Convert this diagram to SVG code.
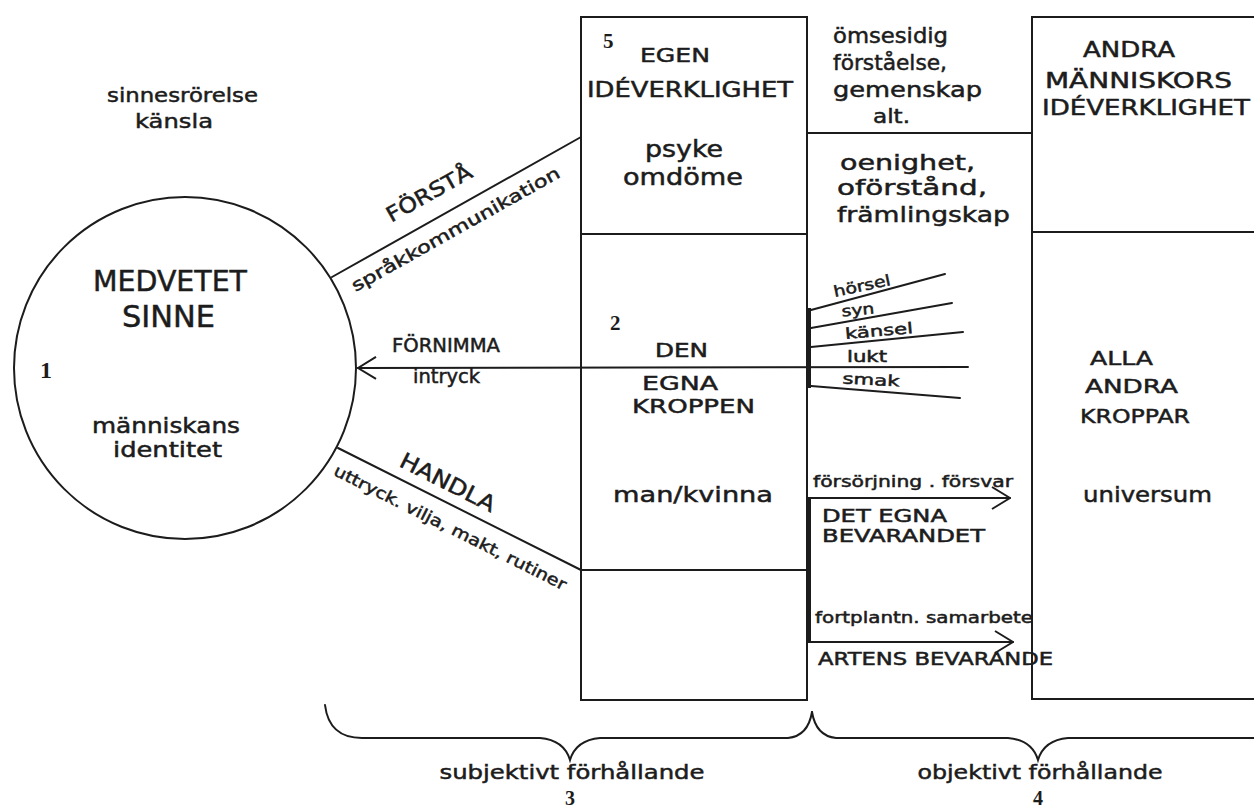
<svg xmlns="http://www.w3.org/2000/svg" width="1254" height="808" viewBox="0 0 1254 808">
<style>
.ln{stroke:#1c1c1c;stroke-width:2;fill:none;stroke-linecap:round}
.thick{stroke:#1c1c1c;stroke-width:4;fill:none}
.t{font-family:"DejaVu Sans","Liberation Sans",sans-serif;fill:#1c1c1c;stroke:#1c1c1c;stroke-width:0.5}
.num{font-family:"Liberation Serif",serif;font-weight:bold;fill:#1c1c1c}
</style>
<defs>
<marker id="chev" viewBox="0 0 20 24" refX="19" refY="12" markerWidth="20" markerHeight="24" markerUnits="userSpaceOnUse" orient="auto">
<path d="M1,1 L19,12 L1,23" fill="none" stroke="#1c1c1c" stroke-width="2"/>
</marker>
</defs>
<rect width="1254" height="808" fill="#ffffff"/>

<g id="label-sinnesrorelse">
<text class="t" x="107" y="102" font-size="20" textLength="151" lengthAdjust="spacingAndGlyphs">sinnesrörelse</text>
<text class="t" x="135" y="128" font-size="20" textLength="78" lengthAdjust="spacingAndGlyphs">känsla</text>
</g>

<g id="node-medvetet-sinne">
<circle class="ln" cx="185" cy="368" r="171"/>
<text class="t" x="93" y="291" font-size="28" textLength="154" lengthAdjust="spacingAndGlyphs">MEDVETET</text>
<text class="t" x="122" y="327" font-size="30" textLength="93" lengthAdjust="spacingAndGlyphs">SINNE</text>
<text class="num" x="40" y="378" font-size="24">1</text>
<text class="t" x="92" y="433" font-size="21" textLength="148" lengthAdjust="spacingAndGlyphs">människans</text>
<text class="t" x="113" y="457" font-size="21" textLength="109" lengthAdjust="spacingAndGlyphs">identitet</text>
</g>

<g id="node-egen-ideverklighet">
<rect class="ln" x="581" y="17" width="226" height="217"/>
<text class="num" x="603" y="48" font-size="21">5</text>
<text class="t" x="640" y="62" font-size="20" textLength="70" lengthAdjust="spacingAndGlyphs">EGEN</text>
<text class="t" x="587" y="97" font-size="21" textLength="206" lengthAdjust="spacingAndGlyphs">IDÉVERKLIGHET</text>
<text class="t" x="645" y="157" font-size="23" textLength="78" lengthAdjust="spacingAndGlyphs">psyke</text>
<text class="t" x="623" y="185" font-size="23" textLength="120" lengthAdjust="spacingAndGlyphs">omdöme</text>
</g>

<g id="node-den-egna-kroppen">
<rect class="ln" x="581" y="234" width="226" height="336"/>
<text class="num" x="610" y="330" font-size="21">2</text>
<text class="t" x="655" y="357" font-size="19" textLength="53" lengthAdjust="spacingAndGlyphs">DEN</text>
<text class="t" x="642" y="390" font-size="20" textLength="76" lengthAdjust="spacingAndGlyphs">EGNA</text>
<text class="t" x="632" y="413" font-size="20" textLength="123" lengthAdjust="spacingAndGlyphs">KROPPEN</text>
<text class="t" x="613" y="502" font-size="22" textLength="160" lengthAdjust="spacingAndGlyphs">man/kvinna</text>
</g>

<g id="node-empty">
<rect class="ln" x="581" y="570" width="226" height="130"/>
</g>

<g id="node-relation-ide">
<line class="ln" x1="807" y1="133" x2="1032" y2="133"/>
<text class="t" x="833" y="43" font-size="21" textLength="115" lengthAdjust="spacingAndGlyphs">ömsesidig</text>
<text class="t" x="833" y="70" font-size="21" textLength="114" lengthAdjust="spacingAndGlyphs">förståelse,</text>
<text class="t" x="833" y="97" font-size="21" textLength="149" lengthAdjust="spacingAndGlyphs">gemenskap</text>
<text class="t" x="873" y="123" font-size="19" textLength="37" lengthAdjust="spacingAndGlyphs">alt.</text>
<text class="t" x="840" y="170" font-size="22" textLength="135" lengthAdjust="spacingAndGlyphs">oenighet,</text>
<text class="t" x="837" y="195" font-size="22" textLength="150" lengthAdjust="spacingAndGlyphs">oförstånd,</text>
<text class="t" x="837" y="222" font-size="22" textLength="173" lengthAdjust="spacingAndGlyphs">främlingskap</text>
</g>

<g id="node-andra-ideverklighet">
<path class="ln" d="M1256,17 H1032 V232 H1256"/>
<text class="t" x="1083" y="57" font-size="21" textLength="92" lengthAdjust="spacingAndGlyphs">ANDRA</text>
<text class="t" x="1045" y="88" font-size="21" textLength="187" lengthAdjust="spacingAndGlyphs">MÄNNISKORS</text>
<text class="t" x="1042" y="115" font-size="21" textLength="208" lengthAdjust="spacingAndGlyphs">IDÉVERKLIGHET</text>
</g>

<g id="node-alla-andra-kroppar">
<path class="ln" d="M1032,232 V699 H1256"/>
<text class="t" x="1090" y="365" font-size="20" textLength="63" lengthAdjust="spacingAndGlyphs">ALLA</text>
<text class="t" x="1085" y="393" font-size="20" textLength="93" lengthAdjust="spacingAndGlyphs">ANDRA</text>
<text class="t" x="1080" y="423" font-size="20" textLength="110" lengthAdjust="spacingAndGlyphs">KROPPAR</text>
<text class="t" x="1083" y="502" font-size="21" textLength="129" lengthAdjust="spacingAndGlyphs">universum</text>
</g>

<g id="connectors">
<line class="ln" x1="332" y1="277" x2="581" y2="137"/>
<line class="ln" x1="338" y1="448" x2="581" y2="570"/>
<line class="ln" x1="968" y1="367" x2="358" y2="368" marker-end="url(#chev)"/>
<line class="ln" x1="811" y1="310" x2="945" y2="274"/>
<line class="ln" x1="811" y1="328" x2="952" y2="303"/>
<line class="ln" x1="811" y1="347" x2="963" y2="332"/>
<line class="ln" x1="811" y1="386" x2="960" y2="398"/>
<line class="thick" x1="809" y1="308" x2="809" y2="388"/>
<line class="ln" x1="808" y1="498" x2="1010" y2="498" marker-end="url(#chev)"/>
<line class="ln" x1="808" y1="642" x2="1013" y2="642" marker-end="url(#chev)"/>
<line class="thick" x1="809" y1="498" x2="809" y2="642" stroke-width="3"/>
</g>

<g id="connector-labels">
<text class="t" font-size="21" text-anchor="middle" transform="translate(429,193) rotate(-29.3)" y="7.5" textLength="95" lengthAdjust="spacingAndGlyphs">FÖRSTÅ</text>
<text class="t" font-size="17" text-anchor="middle" transform="translate(456,230) rotate(-29.3)" y="5" textLength="236" lengthAdjust="spacingAndGlyphs">språkkommunikation</text>
<text class="t" x="392" y="352" font-size="19" textLength="108" lengthAdjust="spacingAndGlyphs">FÖRNIMMA</text>
<text class="t" x="413" y="383" font-size="19" textLength="67" lengthAdjust="spacingAndGlyphs">intryck</text>
<text class="t" font-size="22" text-anchor="middle" transform="translate(448,482) rotate(26.7)" y="8" textLength="104" lengthAdjust="spacingAndGlyphs">HANDLA</text>
<text class="t" font-size="16" text-anchor="middle" transform="translate(450,528) rotate(26.7)" y="5" textLength="258" lengthAdjust="spacingAndGlyphs">uttryck. vilja, makt, rutiner</text>
<text class="t" font-size="15" text-anchor="middle" transform="translate(862,286) rotate(-12)" y="5" textLength="58" lengthAdjust="spacingAndGlyphs">hörsel</text>
<text class="t" font-size="15" text-anchor="middle" transform="translate(858,311) rotate(-5)" y="4" textLength="33" lengthAdjust="spacingAndGlyphs">syn</text>
<text class="t" font-size="15" text-anchor="middle" transform="translate(879,331) rotate(-5)" y="5" textLength="68" lengthAdjust="spacingAndGlyphs">känsel</text>
<text class="t" x="847" y="362" font-size="15" textLength="40" lengthAdjust="spacingAndGlyphs">lukt</text>
<text class="t" font-size="15" text-anchor="middle" transform="translate(871,380) rotate(3)" y="5" textLength="57" lengthAdjust="spacingAndGlyphs">smak</text>
<text class="t" x="813" y="487" font-size="16" textLength="200" lengthAdjust="spacingAndGlyphs">försörjning . försvar</text>
<text class="t" x="822" y="522" font-size="17" textLength="125" lengthAdjust="spacingAndGlyphs">DET EGNA</text>
<text class="t" x="822" y="542" font-size="17" textLength="163" lengthAdjust="spacingAndGlyphs">BEVARANDET</text>
<text class="t" x="815" y="623" font-size="16" textLength="218" lengthAdjust="spacingAndGlyphs">fortplantn. samarbete</text>
<text class="t" x="818" y="665" font-size="17" textLength="235" lengthAdjust="spacingAndGlyphs">ARTENS BEVARANDE</text>
</g>

<g id="braces">
<path class="ln" d="M325,705 Q329,738 362,738 L540,738 Q564,740 570,760 Q576,740 600,738 L788,738 Q808,736 812,712"/>
<path class="ln" d="M812,712 Q816,736 836,738 L1008,738 Q1032,740 1038,760 Q1044,740 1068,738 L1256,738"/>
</g>

<g id="brace-labels">
<text class="t" x="572" y="779" font-size="20" text-anchor="middle" textLength="265" lengthAdjust="spacingAndGlyphs">subjektivt förhållande</text>
<text class="num" x="570" y="805" font-size="20" text-anchor="middle">3</text>
<text class="t" x="1040" y="779" font-size="20" text-anchor="middle" textLength="245" lengthAdjust="spacingAndGlyphs">objektivt förhållande</text>
<text class="num" x="1038" y="805" font-size="20" text-anchor="middle">4</text>
</g>
</svg>
